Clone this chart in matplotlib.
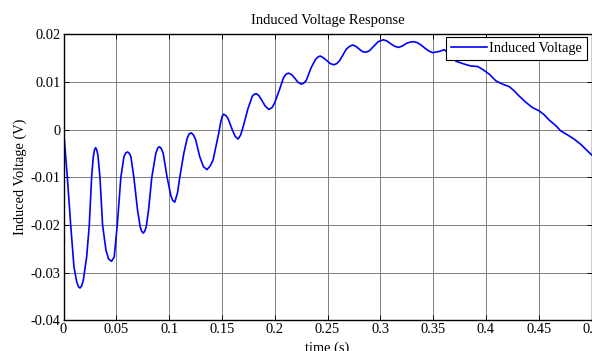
import matplotlib
matplotlib.use('Agg')
import matplotlib.pyplot as plt

# time (s) and induced voltage (V) samples of the response
time_s = [0.0000, 0.0018, 0.0036, 0.0068, 0.0099, 0.0125, 0.0141, 0.0156, 0.0171, 0.0187,
          0.0219, 0.0244, 0.0266, 0.0282, 0.0293, 0.0304, 0.0315, 0.0326, 0.0345, 0.0370,
          0.0402, 0.0427, 0.0455, 0.0480, 0.0509, 0.0543, 0.0572, 0.0590, 0.0607, 0.0623,
          0.0638, 0.0666, 0.0701, 0.0726, 0.0740, 0.0755, 0.0769, 0.0783, 0.0805, 0.0836,
          0.0874, 0.0892, 0.0909, 0.0926, 0.0944, 0.0981, 0.1016, 0.1035, 0.1054, 0.1080,
          0.1101, 0.1139, 0.1170, 0.1190, 0.1211, 0.1232, 0.1252, 0.1290, 0.1325, 0.1359,
          0.1390, 0.1416, 0.1463, 0.1489, 0.1503, 0.1517, 0.1538, 0.1558, 0.1599, 0.1625,
          0.1652, 0.1676, 0.1700, 0.1747, 0.1788, 0.1807, 0.1826, 0.1850, 0.1873, 0.1910,
          0.1945, 0.1975, 0.2000, 0.2046, 0.2084, 0.2108, 0.2131, 0.2160, 0.2188, 0.2220,
          0.2251, 0.2275, 0.2299, 0.2346, 0.2387, 0.2410, 0.2431, 0.2462, 0.2494, 0.2527,
          0.2560, 0.2587, 0.2614, 0.2677, 0.2708, 0.2739, 0.2770, 0.2802, 0.2834, 0.2866,
          0.2897, 0.2928, 0.2980, 0.3029, 0.3065, 0.3102, 0.3138, 0.3174, 0.3210, 0.3244,
          0.3280, 0.3313, 0.3350, 0.3386, 0.3430, 0.3464, 0.3495, 0.3550, 0.3606, 0.3660,
          0.3716, 0.3795, 0.3858, 0.3921, 0.3968, 0.4031, 0.4094, 0.4157, 0.4220, 0.4267,
          0.4315, 0.4378, 0.4440, 0.4504, 0.4551, 0.4598, 0.4662, 0.4709, 0.4771, 0.4835,
          0.4898, 0.4945, 0.5000]
voltage = [0.0, -0.0050, -0.0100, -0.0200, -0.0288, -0.0319, -0.0329, -0.0332, -0.0328, -0.0316,
           -0.0267, -0.0200, -0.0100, -0.0057, -0.0043, -0.0038, -0.0043, -0.0054, -0.0100, -0.0200,
           -0.0253, -0.0271, -0.0276, -0.0267, -0.0200, -0.0100, -0.0057, -0.0049, -0.0047, -0.0050,
           -0.0057, -0.0100, -0.0169, -0.0204, -0.0213, -0.0217, -0.0213, -0.0204, -0.0169, -0.0100,
           -0.0050, -0.0039, -0.0036, -0.0040, -0.0050, -0.0100, -0.0138, -0.0149, -0.0152, -0.0132,
           -0.0100, -0.0050, -0.0019, -0.0009, -0.0007, -0.0012, -0.0022, -0.0057, -0.0078, -0.0084,
           -0.0076, -0.0064, -0.0015, 0.0016, 0.0028, 0.0032, 0.0029, 0.0023, -0.0001, -0.0014,
           -0.0020, -0.0012, 0.0005, 0.0044, 0.0070, 0.0074, 0.0075, 0.0071, 0.0063, 0.0049,
           0.0042, 0.0046, 0.0056, 0.0084, 0.0109, 0.0116, 0.0118, 0.0115, 0.0108, 0.0099,
           0.0095, 0.0097, 0.0103, 0.0130, 0.0147, 0.0152, 0.0154, 0.0150, 0.0144, 0.0138,
           0.01355, 0.0138, 0.0144, 0.0168, 0.0174, 0.0177, 0.0174, 0.0168, 0.0163, 0.0162,
           0.0165, 0.0172, 0.0184, 0.0188, 0.0185, 0.0179, 0.0174, 0.0172, 0.0175, 0.0180,
           0.0183, 0.0184, 0.0182, 0.0177, 0.0169, 0.0164, 0.0161, 0.0163, 0.0167, 0.0158,
           0.0143, 0.0137, 0.0133, 0.0132, 0.0126, 0.0116, 0.0102, 0.0095, 0.0090, 0.0081,
           0.0070, 0.0057, 0.0046, 0.0039, 0.0031, 0.0020, 0.0008, -0.0003, -0.0011, -0.0020,
           -0.0031, -0.0041, -0.0053]

x_ticks = [0, 0.05, 0.1, 0.15, 0.2, 0.25, 0.3, 0.35, 0.4, 0.45, 0.5]
x_labels = ['0', '0.05', '0.1', '0.15', '0.2', '0.25', '0.3', '0.35', '0.4', '0.45', '0.5']
y_ticks = [-0.04, -0.03, -0.02, -0.01, 0, 0.01, 0.02]
y_labels = ['-0.04', '-0.03', '-0.02', '-0.01', '0', '0.01', '0.02']

plt.rcParams['font.family'] = ['Liberation Serif', 'DejaVu Serif']
plt.rcParams['font.size'] = 10.4

fig = plt.figure(figsize=(5.92, 3.51), dpi=100)
ax = fig.add_axes([0.1073, 0.0869, 0.8919, 0.8162])

ax.plot(time_s, voltage, color='#0000ff', lw=1.2, label='Induced Voltage')

ax.set_xlim(0, 0.5)
ax.set_ylim(-0.04, 0.02)
ax.set_xticks(x_ticks)
ax.set_xticklabels(x_labels)
ax.set_yticks(y_ticks)
ax.set_yticklabels(y_labels)
ax.grid(True, color='0.5', lw=0.7, ls='-')
ax.set_axisbelow(True)
ax.tick_params(direction='in', length=3.5, width=0.7, top=True, right=True, pad=2)
for sp in ax.spines.values():
    sp.set_linewidth(1.0)

ax.set_title('Induced Voltage Response', fontsize=10.5, pad=7)
ax.set_xlabel('time (s)', labelpad=4)
ax.set_ylabel('Induced Voltage (V)', labelpad=3)

leg = ax.legend(loc='upper right', bbox_to_anchor=(0.991, 0.989), borderaxespad=0,
                fancybox=False, framealpha=1, edgecolor='black', handlelength=2.45,
                borderpad=0.35, handletextpad=0.15)
leg.get_frame().set_linewidth(0.8)

fig.savefig('out.png', dpi=100)
